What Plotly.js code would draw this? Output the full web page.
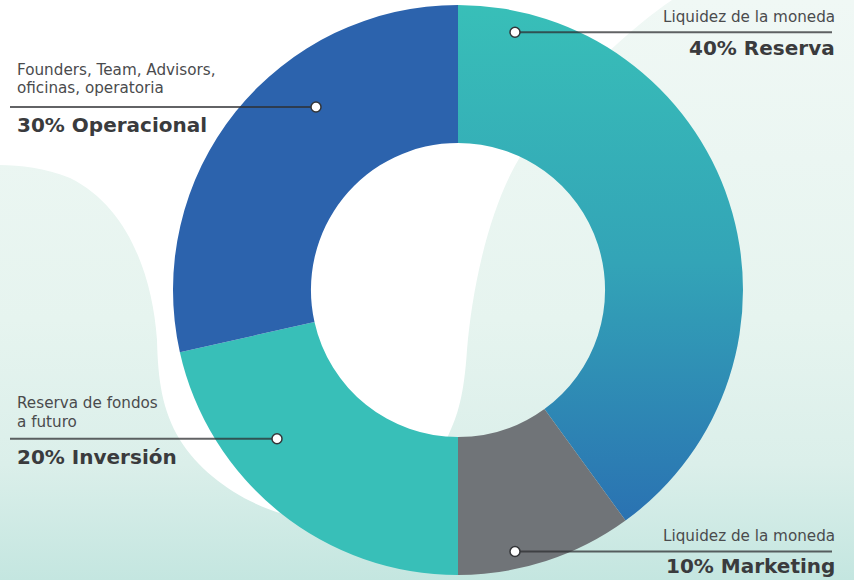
<!DOCTYPE html>
<html>
<head>
<meta charset="utf-8">
<script src="https://cdn.plot.ly/plotly-3.0.1.min.js"></script>
<style>
  html, body { margin: 0; padding: 0; background: #ffffff; }
  #chart { width: 854px; height: 580px; }
</style>
</head>
<body>
<div id="chart"></div>
<script>
// ---- data ----
const categories = ['Reserva', 'Marketing', 'Inversión', 'Operacional'];
const shares = [40, 10, 21.5, 28.5];           // slice sizes as drawn
const titleLabels = ['40% Reserva', '10% Marketing', '20% Inversión', '30% Operacional'];
const noteLines = [
  ['Liquidez de la moneda'],
  ['Liquidez de la moneda'],
  ['Reserva de fondos', 'a futuro'],
  ['Founders, Team, Advisors,', 'oficinas, operatoria']
];
const sliceColors = ['#36b6b8', '#707478', '#38bfb8', '#2c63ad'];

// ---- layout helpers (pixel -> paper) ----
const W = 854, H = 580;
const px = x => x / W;
const py = y => 1 - y / H;

const callouts = [
  {side: 'right', tx: 836, sub: [17.3], title: 48.1, ly: 32.3, lx0: 515, lx1: 832, dot: 515},
  {side: 'right', tx: 836, sub: [535.6], title: 566.4, ly: 551.5, lx0: 515, lx1: 832, dot: 515},
  {side: 'left', tx: 16, sub: [403.4, 421.6], title: 457.1, ly: 438.8, lx0: 10, lx1: 277, dot: 277},
  {side: 'left', tx: 16, sub: [70.1, 88.3], title: 125.4, ly: 107, lx0: 10, lx1: 316, dot: 316}
];

const FONT = 'DejaVu Sans, Verdana, sans-serif';
const annotations = [];
const shapes = [];
callouts.forEach((c, i) => {
  noteLines[i].forEach((t, k) => {
    annotations.push({
      xref: 'paper', yref: 'paper', x: px(c.tx), y: py(c.sub[k]),
      xanchor: c.side, yanchor: 'middle', showarrow: false, borderpad: 0,
      text: t, font: {family: FONT, size: 15.2, color: '#4a4b4d'}
    });
  });
  annotations.push({
    xref: 'paper', yref: 'paper', x: px(c.tx), y: py(c.title),
    xanchor: c.side, yanchor: 'middle', showarrow: false, borderpad: 0,
    text: '<b>' + titleLabels[i] + '</b>', font: {family: FONT, size: 20, color: '#3a3b3d'}
  });
  shapes.push({
    type: 'line', xref: 'paper', yref: 'paper', layer: 'above',
    x0: px(c.lx0), x1: px(c.lx1), y0: py(c.ly), y1: py(c.ly),
    line: {color: 'rgba(45,47,50,0.75)', width: 2}
  });
  shapes.push({
    type: 'circle', xref: 'paper', yref: 'paper', layer: 'above',
    x0: px(c.dot - 5), x1: px(c.dot + 5), y0: py(c.ly + 5), y1: py(c.ly - 5),
    fillcolor: '#ffffff', line: {color: '#333538', width: 1.5}
  });
});

// decorative background (soft mint blobs)
const bgSvg =
  "<svg xmlns='http://www.w3.org/2000/svg' width='854' height='580' viewBox='0 0 854 580' preserveAspectRatio='none'>" +
  "<defs><linearGradient id='b' x1='0' y1='0' x2='0' y2='1'>" +
  "<stop offset='0' stop-color='#f0f8f5'/><stop offset='0.55' stop-color='#e6f4ef'/>" +
  "<stop offset='0.8' stop-color='#dbefea'/><stop offset='1' stop-color='#c4e6e0'/></linearGradient></defs>" +
  "<rect width='854' height='580' fill='url(#b)'/>" +
  "<path fill='#ffffff' d='M0,0 L672,0 C635,25 565,85 520,157 C488,210 472,290 467,350 C464,395 458,415 448,436 " +
  "C436,470 425,510 415,545 L300,518 C255,510 205,480 180,440 C162,410 158,380 157,340 C152,270 125,205 70,178 C45,168 20,165 0,165 Z'/>" +
  "</svg>";

const data = [{
  type: 'pie',
  labels: categories,
  values: shares,
  sort: false,
  direction: 'clockwise',
  rotation: 0,
  hole: 0.516,
  textinfo: 'none',
  hoverinfo: 'none',
  marker: {colors: sliceColors, line: {width: 0}},
  domain: {x: [px(458 - 285), px(458 + 285)], y: [py(575), py(5)]},
  showlegend: false
}];

const layout = {
  width: W, height: H,
  margin: {l: 0, r: 0, t: 0, b: 0},
  paper_bgcolor: '#ffffff',
  showlegend: false,
  images: [{
    source: 'data:image/svg+xml;charset=utf-8,' + encodeURIComponent(bgSvg),
    xref: 'paper', yref: 'paper', x: 0, y: 1, sizex: 1, sizey: 1,
    sizing: 'stretch', xanchor: 'left', yanchor: 'top', layer: 'below'
  }],
  annotations: annotations,
  shapes: shapes
};

Plotly.newPlot('chart', data, layout, {staticPlot: true, displayModeBar: false}).then(gd => {
  // give the first slice its vertical teal-to-blue gradient
  const svg = gd.querySelector('svg.main-svg');
  let defs = svg.querySelector('defs');
  const NS = 'http://www.w3.org/2000/svg';
  if (!defs) { defs = document.createElementNS(NS, 'defs'); svg.insertBefore(defs, svg.firstChild); }
  const lg = document.createElementNS(NS, 'linearGradient');
  lg.setAttribute('id', 'reservaGrad');
  lg.setAttribute('x1', '0'); lg.setAttribute('y1', '0');
  lg.setAttribute('x2', '0'); lg.setAttribute('y2', '1');
  [['0', '#38bfb8'], ['0.5', '#33a4b7'], ['1', '#2a72b2']].forEach(([o, c]) => {
    const s = document.createElementNS(NS, 'stop');
    s.setAttribute('offset', o); s.setAttribute('stop-color', c);
    lg.appendChild(s);
  });
  defs.appendChild(lg);
  const slices = gd.querySelectorAll('.pielayer .slice path.surface');
  if (slices.length) slices[0].style.fill = 'url(#reservaGrad)';
});
</script>
</body>
</html>
